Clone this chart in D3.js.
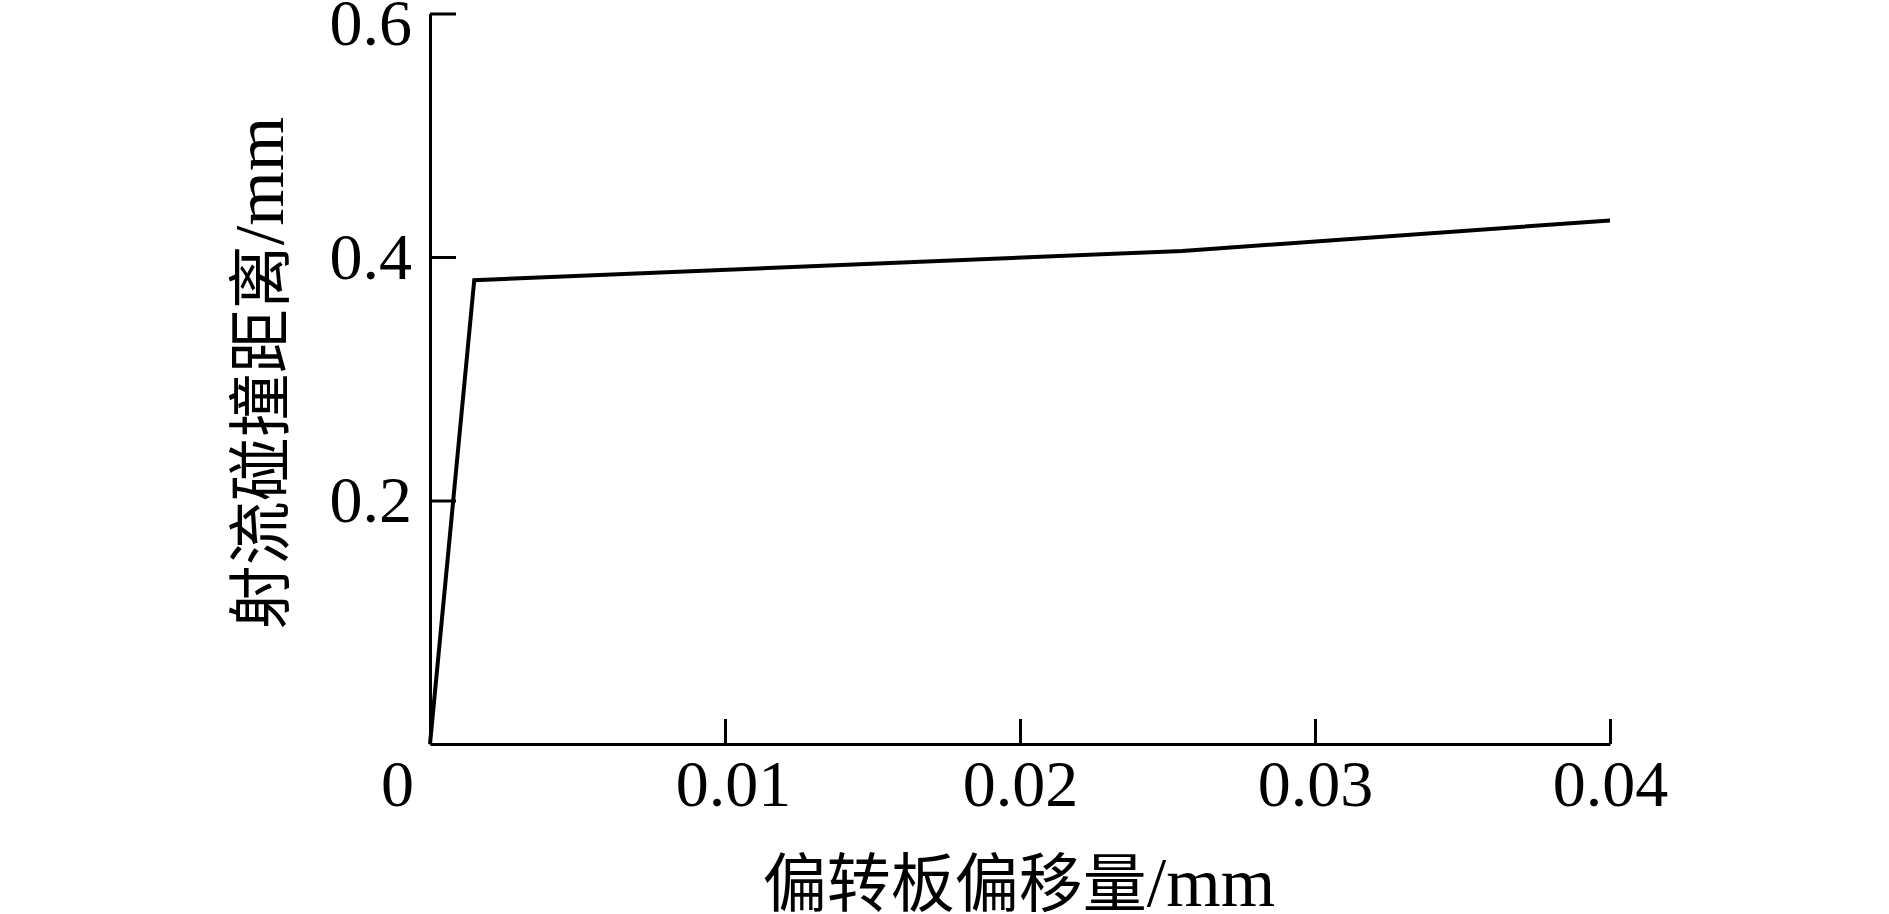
<!DOCTYPE html>
<html>
<head>
<meta charset="utf-8">
<script src="https://cdn.jsdelivr.net/npm/d3@7"></script>
<style>
  html, body { margin: 0; padding: 0; background: #fff; }
  svg { display: block; }
</style>
</head>
<body>
<svg id="chart" width="1889" height="914"></svg>
<script>
// Data
const offsetMm = [0, 0.0015, 0.0255, 0.04];      // 偏转板偏移量 /mm
const distanceMm = [0, 0.381, 0.405, 0.43];      // 射流碰撞距离 /mm
const xTicks = [0, 0.01, 0.02, 0.03, 0.04];
const xTickLabels = ["0", "0.01", "0.02", "0.03", "0.04"];
const yTicks = [0.2, 0.4, 0.6];
const yTickLabels = ["0.2", "0.4", "0.6"];
const xTitleCjk = "偏转板偏移量";
const yTitleCjk = "射流碰撞距离";
const titleUnit = "/mm";

const svg = d3.select("#chart");
const fontNum = "'Liberation Serif', 'Times New Roman', serif";
const fontCjk = "'Noto Sans CJK SC', sans-serif";

const x = d3.scaleLinear().domain([0, 0.04]).range([430, 1610]);
const y = d3.scaleLinear().domain([0, 0.6]).range([744, 13.5]);

// X axis
const xAxis = d3.axisBottom(x)
  .tickValues(xTicks)
  .tickFormat((d, i) => xTickLabels[i])
  .tickSize(-25)
  .tickSizeOuter(0)
  .tickPadding(15);
const gx = svg.append("g").attr("transform", `translate(0,${y(0)})`).call(xAxis);
gx.select(".domain").attr("stroke", "#000").attr("stroke-width", 3);
gx.selectAll(".tick line").attr("stroke", "#000").attr("stroke-width", 3);
gx.selectAll(".tick text")
  .attr("font-family", fontNum).attr("font-size", 66).attr("fill", "#000")
  .attr("dx", d => d === 0 ? -33 : (d === 0.01 ? 8 : 0));
gx.selectAll(".tick").filter(d => d === 0).select("line").remove();

// Y axis
const yAxis = d3.axisLeft(y)
  .tickValues(yTicks)
  .tickFormat((d, i) => yTickLabels[i])
  .tickSize(-26)
  .tickSizeOuter(0)
  .tickPadding(18);
const gy = svg.append("g").attr("transform", `translate(${x(0)},0)`).call(yAxis);
gy.select(".domain").attr("stroke", "#000").attr("stroke-width", 3);
gy.selectAll(".tick line").attr("stroke", "#000").attr("stroke-width", 3);
gy.selectAll(".tick text")
  .attr("font-family", fontNum).attr("font-size", 66).attr("fill", "#000")
  .attr("dy", d => d === 0.6 ? "0.47em" : "0.32em");

// Data line
const pts = offsetMm.map((v, i) => [v, distanceMm[i]]);
svg.append("path")
  .datum(pts)
  .attr("fill", "none")
  .attr("stroke", "#000")
  .attr("stroke-width", 4)
  .attr("stroke-linejoin", "miter")
  .attr("d", d3.line().x(d => x(d[0])).y(d => y(d[1])));

// Axis titles
function title(sel, cjk) {
  sel.attr("text-anchor", "middle").attr("fill", "#000");
  sel.append("tspan").attr("font-family", fontCjk).attr("font-size", 64).text(cjk);
  sel.append("tspan").attr("font-family", fontNum).attr("font-size", 70).text(titleUnit);
}

svg.append("text")
  .attr("x", 1019).attr("y", 906)
  .call(title, xTitleCjk);

svg.append("text")
  .attr("transform", "translate(283,373) rotate(-90)")
  .call(title, yTitleCjk);
</script>
</body>
</html>
